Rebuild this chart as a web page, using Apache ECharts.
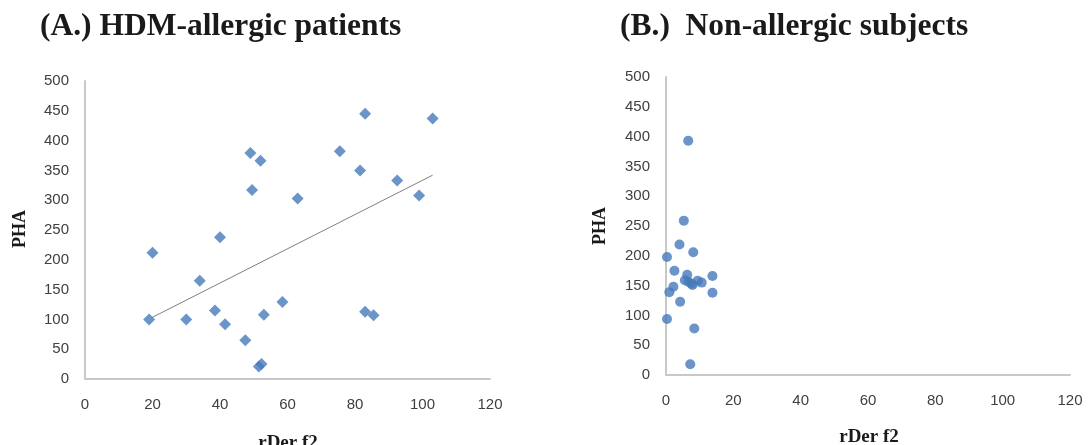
<!DOCTYPE html>
<html><head><meta charset="utf-8">
<script src="https://cdn.jsdelivr.net/npm/echarts@6/dist/echarts.min.js"></script>
<style>html,body{margin:0;padding:0;background:#fff}#c{width:1092px;height:445px}</style>
</head><body><div id="c"></div>
<script>
// Panel A: HDM-allergic patients (rDer f2, PHA)
const allergicX = [19, 20, 30, 34, 38.5, 40, 41.5, 47.5, 49, 49.5, 51.5, 52.3, 52, 53, 58.5, 63, 75.5, 81.5, 83, 83, 85.5, 92.5, 99, 103];
const allergicY = [100, 212, 100, 165, 115, 238, 92, 65, 379, 317, 21, 25, 366, 108, 129, 303, 382, 350, 445, 113, 107, 333, 308, 437];
// Trendline endpoints
const trendX = [19.8, 103];
const trendY = [103, 342];
// Panel B: Non-allergic subjects
const nonAllergicX = [6.6, 5.3, 4, 8.1, 0.3, 2.5, 6.3, 5.6, 6.7, 7.6, 9.4, 10.6, 13.8, 2.2, 1, 13.8, 4.2, 0.3, 8.4, 7.2, 7.9];
const nonAllergicY = [393, 259, 219, 206, 198, 175, 168, 159, 156, 153, 158, 155, 166, 148, 139, 138, 123, 94, 78, 18, 151];
// Axis ticks
const xTicks = [0, 20, 40, 60, 80, 100, 120];
const yTicks = [0, 50, 100, 150, 200, 250, 300, 350, 400, 450, 500];
const titles = ['(A.) HDM-allergic patients', '(B.)  Non-allergic subjects'];
const xName = 'rDer f2', yName = 'PHA';

const pair = (xs, ys) => xs.map((x, i) => [x, ys[i]]);
const blue = '#4679bb';
const axisLine = { show: true, lineStyle: { color: '#c8c8c8', width: 2 } };
const lblStyle = { color: '#404040', fontFamily: 'Liberation Sans', fontSize: 15 };

function xAxis(gi) {
  return { type: 'value', gridIndex: gi, min: xTicks[0], max: xTicks[xTicks.length - 1], interval: xTicks[1] - xTicks[0],
    axisLine: axisLine, axisTick: { show: false }, splitLine: { show: false },
    axisLabel: Object.assign({ margin: 18 }, lblStyle) };
}
function yAxis(gi) {
  return { type: 'value', gridIndex: gi, min: yTicks[0], max: yTicks[yTicks.length - 1], interval: yTicks[1] - yTicks[0],
    axisLine: axisLine, axisTick: { show: false }, splitLine: { show: false },
    axisLabel: Object.assign({ margin: 16 }, lblStyle) };
}
const serifBold = { fontFamily: 'Liberation Serif', fontWeight: 'bold', fill: '#1a1a1a' };

const chart = echarts.init(document.getElementById('c'), null, { renderer: 'canvas' });
chart.setOption({
  backgroundColor: '#ffffff',
  animation: false,
  grid: [
    { left: 85, right: 602, top: 81, bottom: 66 },
    { left: 666, right: 22, top: 77, bottom: 70 }
  ],
  xAxis: [xAxis(0), xAxis(1)],
  yAxis: [yAxis(0), yAxis(1)],
  graphic: [
    { type: 'text', x: 40, y: 27, style: Object.assign({ text: titles[0], fontSize: 31.5, verticalAlign: 'middle' }, serifBold) },
    { type: 'text', x: 620, y: 27, style: Object.assign({ text: titles[1], fontSize: 31.5, verticalAlign: 'middle' }, serifBold) },
    { type: 'text', x: 20, y: 229, rotation: Math.PI / 2, style: Object.assign({ text: yName, fontSize: 18, align: 'center', verticalAlign: 'middle' }, serifBold) },
    { type: 'text', x: 600, y: 226, rotation: Math.PI / 2, style: Object.assign({ text: yName, fontSize: 18, align: 'center', verticalAlign: 'middle' }, serifBold) },
    { type: 'text', x: 288, y: 443, style: Object.assign({ text: xName, fontSize: 19, align: 'center', verticalAlign: 'middle' }, serifBold) },
    { type: 'text', x: 869, y: 437, style: Object.assign({ text: xName, fontSize: 19, align: 'center', verticalAlign: 'middle' }, serifBold) }
  ],
  series: [
    { type: 'line', xAxisIndex: 0, yAxisIndex: 0, data: pair(trendX, trendY), showSymbol: false, symbol: 'none',
      lineStyle: { color: '#7f7f7f', width: 1 }, z: 1, silent: true },
    { type: 'scatter', xAxisIndex: 0, yAxisIndex: 0, data: pair(allergicX, allergicY), symbol: 'diamond', symbolSize: [12, 12],
      itemStyle: { color: blue }, z: 2 },
    { type: 'scatter', xAxisIndex: 1, yAxisIndex: 1, data: pair(nonAllergicX, nonAllergicY), symbol: 'circle', symbolSize: 10,
      itemStyle: { color: blue }, z: 2 }
  ]
});
</script></body></html>
